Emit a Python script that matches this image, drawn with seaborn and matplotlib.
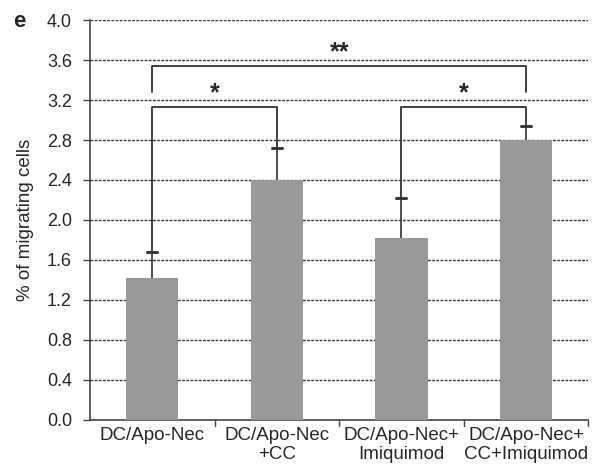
import matplotlib
matplotlib.use("Agg")
import matplotlib.pyplot as plt
import seaborn as sns
import pandas as pd
import numpy as np

categories = ["DC/Apo-Nec", "DC/Apo-Nec\n+CC", "DC/Apo-Nec+\nImiquimod", "DC/Apo-Nec+\nCC+Imiquimod"]
values = [1.42, 2.40, 1.82, 2.80]
errors = [0.26, 0.32, 0.40, 0.14]
yticks = [0.0, 0.4, 0.8, 1.2, 1.6, 2.0, 2.4, 2.8, 3.2, 3.6, 4.0]

# significance brackets: (i, j, height, label)
brackets = [(0, 1, 3.13, "*"), (2, 3, 3.13, "*"), (0, 3, 3.54, "**")]

sns.set_style("white")
plt.rcParams["font.family"] = ["Liberation Sans", "DejaVu Sans"]

fig = plt.figure(figsize=(6.04, 4.67), dpi=100)
ax = fig.add_axes([0.149, 0.101, 0.825, 0.856])

df = pd.DataFrame({"cat": categories, "val": values})
sns.barplot(data=df, x="cat", y="val", color="#999999", width=0.42,
            saturation=1, ax=ax, zorder=3, edgecolor="none")

x = np.arange(len(categories))
ax.errorbar(x, values, yerr=[np.zeros(len(values)), errors], fmt="none",
            ecolor="#333333", elinewidth=1.2, capsize=0, zorder=4)
tops = [v + e for v, e in zip(values, errors)]
ax.errorbar(x, tops, yerr=0, fmt="none", ecolor="#333333", capsize=4,
            capthick=1.8, elinewidth=0, zorder=4)

ax.set_ylim(0, 4.0)
ax.set_xlim(-0.5, 3.5)
ax.set_yticks(yticks)
ax.set_yticklabels([f"{t:.1f}" for t in yticks], fontsize=13)
for t in yticks[1:]:
    ax.axhline(t, color="#333333", linestyle=(0, (2, 1)), linewidth=1.0, zorder=1)

ax.set_xticks(x)
ax.set_xticklabels(categories, fontsize=13.5, linespacing=1.2)
ax.tick_params(axis="x", length=0, pad=5)
for b in [0.5, 1.5, 2.5, 3.5]:
    ax.plot([b, b], [0, -0.06], color="#444444", lw=1, clip_on=False, transform=ax.transData)
ax.tick_params(axis="y", direction="out", length=5, width=1, color="#444444", left=True, pad=8)

ax.set_xlabel("")
ax.set_ylabel("% of migrating cells", fontsize=13.5, labelpad=9)

for s in ["top", "right"]:
    ax.spines[s].set_visible(False)
for s in ["left", "bottom"]:
    ax.spines[s].set_color("#444444")
    ax.spines[s].set_linewidth(1.2)

for i, j, h, lab in brackets:
    if lab == "**":
        yi, yj = 3.28, 3.28
    else:
        yi, yj = tops[i], tops[j]
    ax.plot([i, i, j, j], [yi, h, h, yj], color="#333333", lw=1.3, zorder=5)
    ax.text((i + j) / 2, h + 0.02, lab, ha="center", va="bottom",
            fontsize=18, fontweight="bold", zorder=6)

fig.text(0.022, 0.955, "e", fontsize=16, fontweight="bold", ha="left", va="center")

fig.savefig("out.png", dpi=100)
